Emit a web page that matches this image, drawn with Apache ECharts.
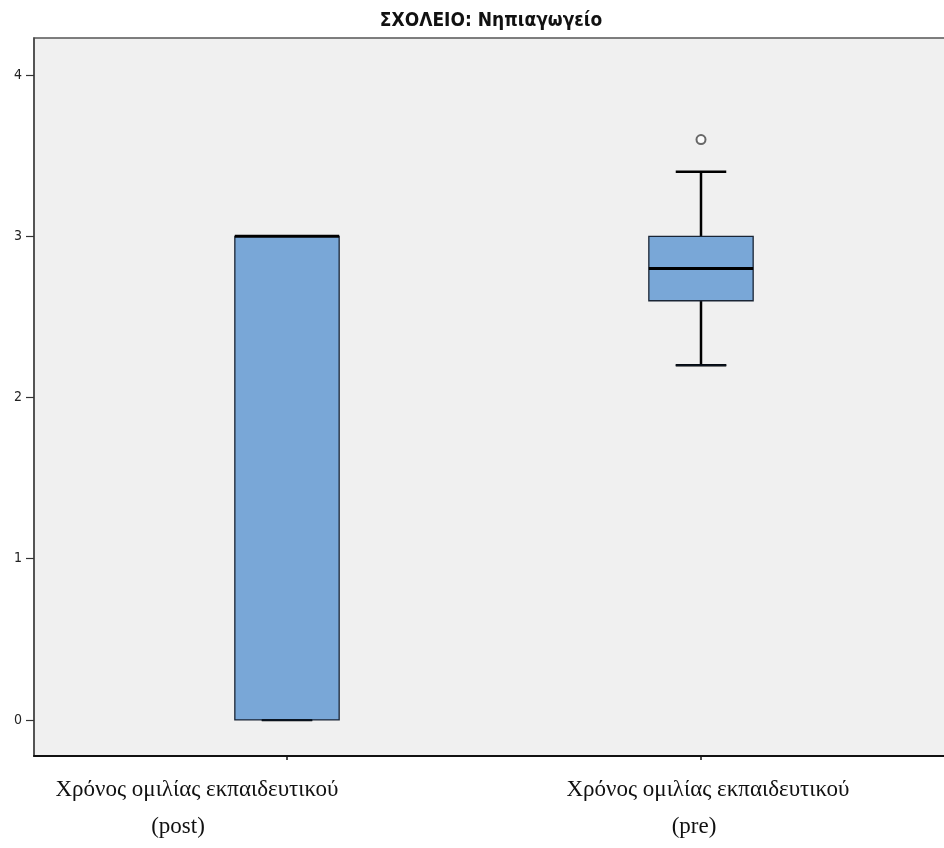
<!DOCTYPE html>
<html>
<head>
<meta charset="utf-8">
<script src="https://cdn.jsdelivr.net/npm/echarts@6/dist/echarts.min.js"></script>
<style>html,body{margin:0;padding:0;background:#fff;}#c{width:944px;height:848px;}</style>
</head>
<body>
<div id="c"></div>
<script>
const chartTitle = 'ΣΧΟΛΕΙΟ: Νηπιαγωγείο';
const categoryLine1 = ['Χρόνος ομιλίας εκπαιδευτικού', 'Χρόνος ομιλίας εκπαιδευτικού'];
const categoryLine2 = ['(post)', '(pre)'];
// [min whisker, Q1, median, Q3, max whisker]
const boxValues = [
  [0, 0, 3, 3, 3],
  [2.2, 2.6, 2.8, 3.0, 3.4]
];
const outliers = [[1, 3.6]];
const yTicks = [0, 1, 2, 3, 4];

const chart = echarts.init(document.getElementById('c'), null, {renderer: 'canvas'});

const gridLeft = 34, gridTop = 38, gridRightX = 950, gridBottomY = 756;
const catCenters = [287, 701];
const unitPx = catCenters[1] - catCenters[0];
const xMin = -(catCenters[0] - gridLeft) / unitPx;
const xMax = xMin + (gridRightX - gridLeft) / unitPx;

const boxData = boxValues.map((v, i) => [i].concat(v));

const labelGraphics = [];
const line1X = [197, 708], line2X = [178, 694];
const serifFont = '23px "Liberation Serif", "DejaVu Serif", serif';
categoryLine1.forEach((t, i) => {
  labelGraphics.push({type: 'text', x: line1X[i], y: 801, style: {text: t, fill: '#111', font: serifFont, textAlign: 'center', textVerticalAlign: 'bottom'}});
  labelGraphics.push({type: 'text', x: line2X[i], y: 838, style: {text: categoryLine2[i], fill: '#111', font: serifFont, textAlign: 'center', textVerticalAlign: 'bottom'}});
});

chart.setOption({
  animation: false,
  backgroundColor: '#ffffff',
  title: {
    text: chartTitle, left: 486, top: 7, textAlign: 'center',
    textStyle: {fontFamily: '"Liberation Sans Narrow", "DejaVu Sans Condensed", sans-serif', fontWeight: 'bold', fontSize: 19, color: '#111'}
  },
  grid: {
    left: gridLeft, top: gridTop, width: gridRightX - gridLeft, height: gridBottomY - gridTop,
    outerBoundsMode: 'none', containLabel: false,
    show: true, backgroundColor: '#f0f0f0', borderColor: '#555', borderWidth: 1.6
  },
  xAxis: {
    type: 'value', min: xMin, max: xMax,
    axisLine: {show: true, onZero: false, lineStyle: {color: '#111', width: 2}},
    axisTick: {show: true, customValues: [0, 1], length: 4, lineStyle: {color: '#111', width: 1.5}},
    axisLabel: {show: false},
    splitLine: {show: false}
  },
  yAxis: {
    type: 'value', min: -0.224, max: 4.23,
    axisLine: {show: true, onZero: false, lineStyle: {color: '#4a4a4a', width: 1.5}},
    axisTick: {show: true, customValues: yTicks, length: 8, lineStyle: {color: '#333', width: 1.2}},
    axisLabel: {show: true, customValues: yTicks, margin: 12, color: '#222', fontSize: 14, fontFamily: '"Liberation Sans Narrow", "DejaVu Sans Condensed", sans-serif'},
    splitLine: {show: false}
  },
  graphic: labelGraphics,
  series: [
    {
      type: 'custom',
      data: boxData,
      encode: {x: 0, y: [1, 2, 3, 4, 5]},
      clip: false,
      renderItem: function (params, api) {
        const x = api.value(0);
        const lo = api.coord([x, api.value(1)]);
        const q1 = api.coord([x, api.value(2)]);
        const md = api.coord([x, api.value(3)]);
        const q3 = api.coord([x, api.value(4)]);
        const hi = api.coord([x, api.value(5)]);
        const w = api.size([1, 0])[0];
        const hb = w * 0.126, hc = w * 0.061;
        const cx = lo[0];
        const black = {stroke: '#000', lineWidth: 2.5};
        return {
          type: 'group',
          children: [
            {type: 'line', shape: {x1: cx, y1: lo[1], x2: cx, y2: q1[1]}, style: black},
            {type: 'line', shape: {x1: cx, y1: q3[1], x2: cx, y2: hi[1]}, style: black},
            {type: 'line', shape: {x1: cx - hc, y1: lo[1], x2: cx + hc, y2: lo[1]}, style: black},
            {type: 'line', shape: {x1: cx - hc, y1: hi[1], x2: cx + hc, y2: hi[1]}, style: black},
            {type: 'rect', shape: {x: cx - hb, y: q3[1], width: 2 * hb, height: q1[1] - q3[1]}, style: {fill: '#79a7d7', stroke: '#1a2535', lineWidth: 1.3}},
            {type: 'line', shape: {x1: cx - hc, y1: lo[1], x2: cx + hc, y2: lo[1]}, style: {stroke: '#0a1420', lineWidth: 1.6}},
            {type: 'line', shape: {x1: cx - hb, y1: md[1], x2: cx + hb, y2: md[1]}, style: {stroke: '#000', lineWidth: 3}}
          ]
        };
      }
    },
    {
      type: 'scatter',
      data: outliers,
      symbol: 'emptyCircle',
      symbolSize: 9,
      itemStyle: {color: '#444', borderColor: '#444', borderWidth: 1.5}
    }
  ]
});
</script>
</body>
</html>
